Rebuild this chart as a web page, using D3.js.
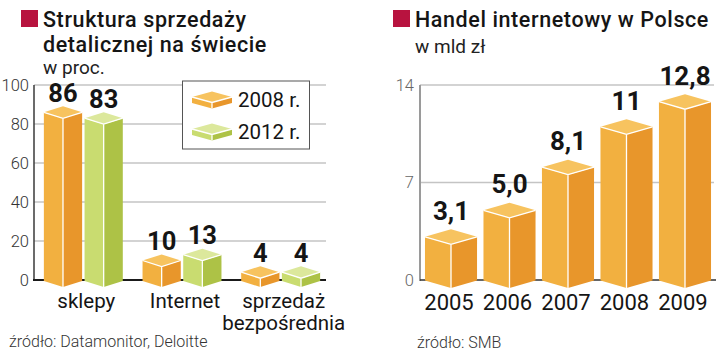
<!DOCTYPE html>
<html>
<head>
<meta charset="utf-8">
<script src="https://cdn.jsdelivr.net/npm/d3@7"></script>
<style>
  body { margin: 0; background: #fff; }
  svg { display: block; font-family: Roboto, "Noto Sans", sans-serif; }
</style>
</head>
<body>
<div id="chart"></div>
<script>
// retail structure (left panel)
const retailCategories = ['sklepy', 'Internet', 'sprzedaż bezpośrednia'];
const retailSeries = ['2008 r.', '2012 r.'];
const retail2008 = [86, 10, 4];
const retail2012 = [83, 13, 4];
const retailTicks = [0, 20, 40, 60, 80, 100];

// e-commerce in Poland (right panel)
const ecomYears = ['2005', '2006', '2007', '2008', '2009'];
const ecomValues = [3.1, 5.0, 8.1, 11, 12.8];
const ecomLabels = ['3,1', '5,0', '8,1', '11', '12,8'];
const ecomTicks = [0, 7, 14];

const orange = {top: '#f7c35f', left: '#f2b040', right: '#e8962b'};
const green = {top: '#dce89c', left: '#c9dc70', right: '#adc246'};
const seriesColors = [orange, green];
const accent = '#b8133f';

const svg = d3.select('#chart').append('svg')
    .attr('width', 720)
    .attr('height', 354);

// isometric box: x0..x0+w, top corners at yTop, bottom corners at yBase
function drawBox(g, x0, w, yTop, yBase, depth, c) {
    const xm = x0 + w / 2, x1 = x0 + w;
    const line = d3.line();
    g.append('path')
        .attr('d', line([[x0, yTop], [xm, yTop + depth], [xm, yBase + depth], [x0, yBase]]) + 'Z')
        .attr('fill', c.left);
    g.append('path')
        .attr('d', line([[xm, yTop + depth], [x1, yTop], [x1, yBase], [xm, yBase + depth]]) + 'Z')
        .attr('fill', c.right);
    g.append('path')
        .attr('d', line([[x0, yTop], [xm, yTop - depth], [x1, yTop], [xm, yTop + depth]]) + 'Z')
        .attr('fill', c.top);
    g.append('path')
        .attr('d', line([[x0, yTop], [xm, yTop + depth], [x1, yTop]]) + ' ' +
                   line([[xm, yTop + depth], [xm, yBase + depth]]))
        .attr('fill', 'none')
        .attr('stroke', '#fff')
        .attr('stroke-width', 1.3);
}

function drawTitle(x, lines, sub, subY) {
    svg.append('rect')
        .attr('x', x - 22).attr('y', 10)
        .attr('width', 17).attr('height', 17)
        .attr('fill', accent);
    lines.forEach((t, i) => {
        svg.append('text')
            .attr('x', x).attr('y', 26.5 + i * 25.3)
            .attr('font-size', 21.5)
            .attr('font-weight', 500)
            .attr('letter-spacing', 0.6)
            .attr('fill', '#151515')
            .text(t);
    });
    svg.append('text')
        .attr('x', x).attr('y', subY)
        .attr('font-size', 19)
        .attr('fill', '#222')
        .text(sub);
}

// ---------- left panel ----------
drawTitle(43, ['Struktura sprzedaży', 'detalicznej na świecie'], 'w proc.', 73.5);

const yL = d3.scaleLinear().domain([0, 100]).range([280, 85]);
const xL = d3.scaleBand().domain(retailCategories).range([34, 330])
    .paddingInner(0.2).paddingOuter(0.1);
const xsL = d3.scaleBand().domain(retailSeries).range([0, xL.bandwidth()])
    .paddingInner(0.06);

const left = svg.append('g');

left.selectAll('line.grid')
    .data(retailTicks.filter(d => d > 0))
    .join('line')
    .attr('x1', 34).attr('x2', 326)
    .attr('y1', d => yL(d)).attr('y2', d => yL(d))
    .attr('stroke', '#c4c4c4')
    .attr('stroke-width', 1.5);

const axL = left.append('g')
    .attr('transform', 'translate(34,0)')
    .call(d3.axisLeft(yL).tickValues(retailTicks).tickSize(0).tickPadding(5));
axL.select('.domain').remove();
axL.selectAll('text')
    .attr('font-size', 16.5)
    .attr('font-weight', 300)
    .attr('fill', '#333')
    .attr('font-family', 'Roboto, sans-serif');

left.append('line')
    .attr('x1', 34).attr('x2', 34)
    .attr('y1', yL(100)).attr('y2', yL(0))
    .attr('stroke', '#3a3a3a').attr('stroke-width', 1.5);
left.append('line')
    .attr('x1', 33).attr('x2', 326)
    .attr('y1', yL(0)).attr('y2', yL(0))
    .attr('stroke', '#1a1a1a').attr('stroke-width', 2);

// legend
const legend = left.append('g');
legend.append('rect')
    .attr('x', 182.5).attr('y', 81)
    .attr('width', 127).attr('height', 68)
    .attr('fill', '#fff')
    .attr('stroke', '#555').attr('stroke-width', 1);
retailSeries.forEach((s, i) => {
    const cy = 100 + i * 32;
    drawBox(legend, 192, 40, cy - 3, cy + 3, 5.5, seriesColors[i]);
    legend.append('text')
        .attr('x', 238).attr('y', cy + 7)
        .attr('font-size', 20.5)
        .attr('fill', '#151515')
        .text(s);
});

const retailData = [retail2008, retail2012];
retailCategories.forEach((cat, ci) => {
    retailSeries.forEach((s, si) => {
        const v = retailData[si][ci];
        const x0 = xL(cat) + xsL(s);
        const w = xsL.bandwidth();
        drawBox(left, x0, w, yL(v), yL(0) + 1, 6, seriesColors[si]);
        left.append('text')
            .attr('x', x0 + w / 2)
            .attr('y', yL(v) - 10.5)
            .attr('text-anchor', 'middle')
            .attr('font-size', 25.5)
            .attr('font-weight', 700)
            .attr('fill', '#151515')
            .text(v);
    });
    const words = cat.split(' ');
    left.append('text')
        .attr('x', xL(cat) + xL.bandwidth() / 2 + 3)
        .attr('y', 308)
        .attr('text-anchor', 'middle')
        .attr('font-size', 20.5)
        .attr('fill', '#151515')
        .selectAll('tspan')
        .data(words)
        .join('tspan')
        .attr('x', xL(cat) + xL.bandwidth() / 2 + 3)
        .attr('dy', (d, i) => i === 0 ? 0 : 22)
        .text(d => d);
});

svg.append('text')
    .attr('x', 9).attr('y', 347)
    .attr('font-size', 16)
    .attr('font-weight', 300)
    .attr('fill', '#333')
    .text('źródło: Datamonitor, Deloitte');

// ---------- right panel ----------
drawTitle(415, ['Handel internetowy w Polsce'], 'w mld zł', 53);

const yR = d3.scaleLinear().domain([0, 14]).range([280, 85]);
const xR = d3.scaleBand().domain(ecomYears).range([420, 716])
    .paddingInner(0.11).paddingOuter(0.085);

const right = svg.append('g');

right.selectAll('line.grid')
    .data(ecomTicks.filter(d => d > 0))
    .join('line')
    .attr('x1', 420).attr('x2', 714)
    .attr('y1', d => yR(d)).attr('y2', d => yR(d))
    .attr('stroke', '#c4c4c4')
    .attr('stroke-width', 1.5);

const axR = right.append('g')
    .attr('transform', 'translate(420,0)')
    .call(d3.axisLeft(yR).tickValues(ecomTicks).tickSize(0).tickPadding(6));
axR.select('.domain').remove();
axR.selectAll('text')
    .attr('font-size', 16.5)
    .attr('font-weight', 300)
    .attr('fill', '#666')
    .attr('font-family', 'Roboto, sans-serif');

right.append('line')
    .attr('x1', 420).attr('x2', 420)
    .attr('y1', yR(14)).attr('y2', yR(0) + 1)
    .attr('stroke', '#9a9a9a').attr('stroke-width', 2);
right.append('line')
    .attr('x1', 420).attr('x2', 716)
    .attr('y1', yR(0)).attr('y2', yR(0))
    .attr('stroke', '#333').attr('stroke-width', 1.5);

ecomYears.forEach((yr, i) => {
    const v = ecomValues[i];
    const x0 = xR(yr);
    const w = xR.bandwidth();
    drawBox(right, x0, w, yR(v), yR(0) + 0.5, 7.5, orange);
    right.append('text')
        .attr('x', x0 + w / 2)
        .attr('y', yR(v) - 17)
        .attr('text-anchor', 'middle')
        .attr('font-size', 26)
        .attr('font-weight', 700)
        .attr('fill', '#151515')
        .text(ecomLabels[i]);
    right.append('text')
        .attr('x', x0 + w / 2 - 2)
        .attr('y', 310)
        .attr('text-anchor', 'middle')
        .attr('font-size', 22)
        .attr('fill', '#151515')
        .text(yr);
});

svg.append('text')
    .attr('x', 417).attr('y', 348)
    .attr('font-size', 16)
    .attr('font-weight', 300)
    .attr('fill', '#333')
    .text('źródło: SMB');
</script>
</body>
</html>
